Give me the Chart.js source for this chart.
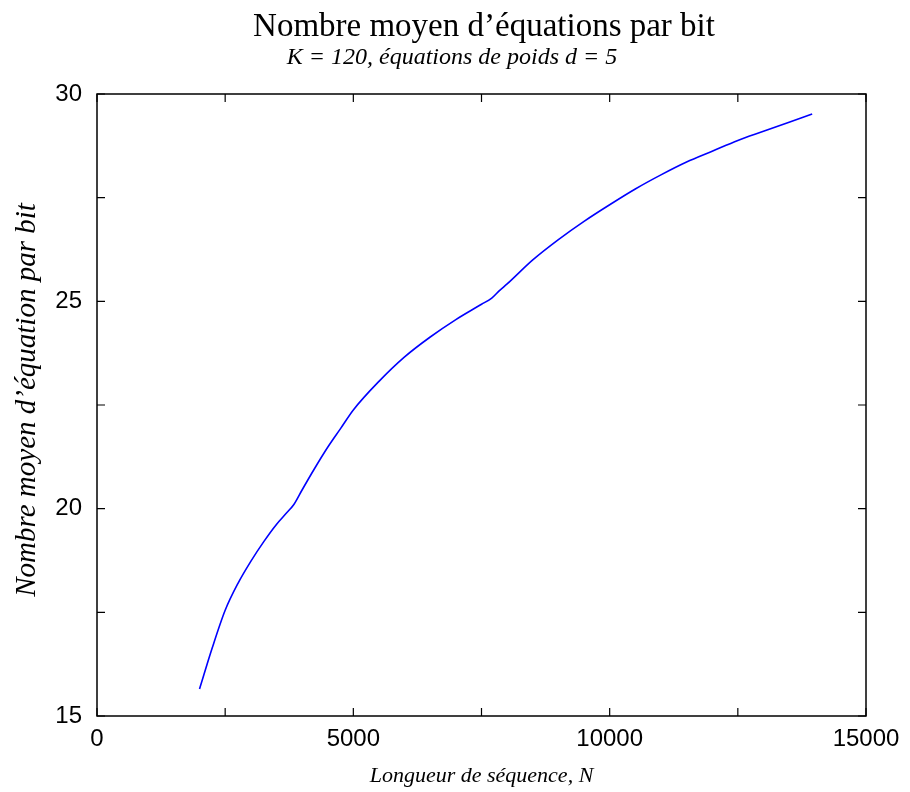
<!DOCTYPE html>
<html>
<head>
<meta charset="utf-8">
<script src="https://cdn.jsdelivr.net/npm/chart.js@4/dist/chart.umd.min.js"></script>
<style>
  html, body { margin: 0; padding: 0; background: #fff; }
  #wrap { width: 910px; height: 792px; }
</style>
</head>
<body>
<div id="wrap"><canvas id="c" width="910" height="792"></canvas></div>
<script>
// Sequence length N
const seqLength = [2000, 2250, 2500, 2750, 3000, 3250, 3500, 3700, 3840, 4000, 4250, 4500, 4750,
  5000, 5500, 6000, 6500, 7000, 7500, 7700, 7850, 8000, 8500, 9000, 9500, 10000,
  10500, 11000, 11500, 12000, 12500, 13000, 13500, 13950];
// Average number of equations per bit
const eqPerBit = [15.65, 16.65, 17.55, 18.2, 18.73, 19.2, 19.62, 19.9, 20.1, 20.45, 20.98, 21.48, 21.93,
  22.38, 23.07, 23.66, 24.14, 24.56, 24.93, 25.08, 25.26, 25.42, 26.0, 26.49, 26.93, 27.33,
  27.71, 28.05, 28.36, 28.62, 28.88, 29.1, 29.32, 29.52];

const xTickLabels = [0, 5000, 10000, 15000];
const yTickLabels = [15, 20, 25, 30];

const titleText = 'Nombre moyen d\u2019\u00e9quations par bit';
const subtitleText = 'K = 120, \u00e9quations de poids d = 5';
const xTitle = 'Longueur de s\u00e9quence, N';
const yTitle = 'Nombre moyen d\u2019\u00e9quation par bit';

// Frame, inward tick marks, headings and the vertical axis title
const framePlugin = {
  id: 'frame',
  afterDraw(chart) {
    const { ctx, chartArea: a, scales } = chart;
    ctx.save();
    ctx.strokeStyle = '#000';
    ctx.lineWidth = 1.5;
    ctx.strokeRect(a.left, a.top, a.right - a.left, a.bottom - a.top);
    const len = 8;
    ctx.lineWidth = 1.2;
    ctx.beginPath();
    scales.x.ticks.forEach(t => {
      const px = scales.x.getPixelForValue(t.value);
      ctx.moveTo(px, a.bottom); ctx.lineTo(px, a.bottom - len);
      ctx.moveTo(px, a.top); ctx.lineTo(px, a.top + len);
    });
    scales.y.ticks.forEach(t => {
      const py = scales.y.getPixelForValue(t.value);
      ctx.moveTo(a.left, py); ctx.lineTo(a.left + len, py);
      ctx.moveTo(a.right, py); ctx.lineTo(a.right - len, py);
    });
    ctx.stroke();

    ctx.fillStyle = '#000';
    ctx.textAlign = 'center';
    ctx.textBaseline = 'alphabetic';
    ctx.font = '33px "Liberation Serif", "Times New Roman", serif';
    ctx.fillText(titleText, 484, 36);
    ctx.font = 'italic 24px "Liberation Serif", "Times New Roman", serif';
    ctx.fillText(subtitleText, 452, 64);

    ctx.translate(27, 400);
    ctx.rotate(-Math.PI / 2);
    ctx.textBaseline = 'middle';
    ctx.font = 'italic 29px "Liberation Serif", "Times New Roman", serif';
    ctx.fillText(yTitle, 0, 0);
    ctx.restore();
  }
};

new Chart(document.getElementById('c'), {
  type: 'line',
  data: {
    datasets: [{
      data: seqLength.map((n, i) => ({ x: n, y: eqPerBit[i] })),
      borderColor: '#0000ff',
      borderWidth: 1.6,
      pointRadius: 0,
      cubicInterpolationMode: 'monotone',
      fill: false
    }]
  },
  options: {
    responsive: false,
    animation: false,
    events: [],
    layout: { padding: { top: 94, right: 44, left: 0, bottom: 0 } },
    plugins: { legend: { display: false }, title: { display: false }, tooltip: { enabled: false } },
    scales: {
      x: {
        type: 'linear',
        min: 0, max: 15000,
        grid: { display: false, drawTicks: false },
        border: { display: false },
        afterFit(scale) { scale.height = 76; },
        ticks: {
          stepSize: 2500,
          autoSkip: false,
          maxRotation: 0,
          padding: 9,
          color: '#000',
          font: { family: '"Liberation Sans", Arial, sans-serif', size: 24 },
          callback: v => xTickLabels.includes(v) ? String(v) : ''
        },
        title: {
          display: true,
          text: xTitle,
          color: '#000',
          padding: { top: 0, bottom: 3 },
          font: { family: '"Liberation Serif", "Times New Roman", serif', size: 22, style: 'italic' }
        }
      },
      y: {
        type: 'linear',
        min: 15, max: 30,
        grid: { display: false, drawTicks: false },
        border: { display: false },
        afterFit(scale) { scale.width = 97; },
        ticks: {
          stepSize: 2.5,
          autoSkip: false,
          padding: 15,
          color: '#000',
          font: { family: '"Liberation Sans", Arial, sans-serif', size: 24 },
          callback: v => yTickLabels.includes(v) ? String(v) : ''
        },
        title: { display: false }
      }
    }
  },
  plugins: [framePlugin]
});
</script>
</body>
</html>
